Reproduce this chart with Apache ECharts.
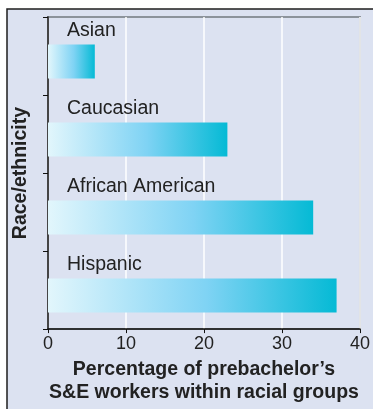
<!DOCTYPE html>
<html>
<head>
<meta charset="utf-8">
<script src="https://cdn.jsdelivr.net/npm/echarts@6/dist/echarts.min.js"></script>
<style>
html, body { margin: 0; padding: 0; background: #fff; }
#main { width: 373px; height: 409px; }
</style>
</head>
<body>
<div id="main"></div>
<script>
var groups = ['Asian', 'Caucasian', 'African American', 'Hispanic'];
var shares = [6, 23, 34, 37];
var pad = [0, 0, 0, 0];
var xTicks = [0, 10, 20, 30, 40];

var myChart = echarts.init(document.getElementById('main'));

var barFill = new echarts.graphic.LinearGradient(0, 0, 1, 0, [
    { offset: 0, color: '#e2f6fc' },
    { offset: 0.55, color: '#7fd3f4' },
    { offset: 1, color: '#05bad5' }
]);

var option = {
    animation: false,
    graphic: [{
        type: 'rect',
        z: -10,
        shape: { x: 7, y: 9, width: 380, height: 420 },
        style: { fill: '#dce2f1', stroke: '#1e1e1e', lineWidth: 1.5 }
    }],
    grid: {
        left: 48, right: 10, top: 17, bottom: 77,
        show: true,
        borderColor: '#8c939b',
        borderWidth: 2,
        backgroundColor: 'transparent'
    },
    xAxis: {
        type: 'value',
        min: xTicks[0],
        max: xTicks[xTicks.length - 1],
        interval: 10,
        axisLine: { show: true, lineStyle: { color: '#111', width: 1.5 } },
        axisTick: { show: true, length: 4, lineStyle: { color: '#111' } },
        axisLabel: { color: '#222', fontSize: 18, margin: 6, fontFamily: 'Liberation Sans' },
        splitLine: { show: true, lineStyle: { color: '#ffffff', width: 1.5 } },
        name: 'Percentage of prebachelor\u2019s\nS&E workers within racial groups',
        nameLocation: 'middle',
        nameGap: 27,
        nameTextStyle: {
            color: '#222', fontSize: 19.5, fontWeight: 'bold',
            lineHeight: 23, fontFamily: 'Liberation Sans'
        }
    },
    yAxis: {
        type: 'category',
        data: groups,
        inverse: true,
        axisLine: { show: true, lineStyle: { color: '#111', width: 1.5 } },
        axisTick: { show: true, length: 5, lineStyle: { color: '#111' } },
        axisLabel: { show: false },
        splitLine: { show: false },
        name: 'Race/ethnicity',
        nameLocation: 'middle',
        nameGap: 17,
        nameTextStyle: {
            color: '#222', fontSize: 19.5, fontWeight: 'bold',
            fontFamily: 'Liberation Sans'
        }
    },
    series: [{
        name: 'pad',
        type: 'bar',
        data: pad,
        barWidth: 11,
        barGap: '0%',
        itemStyle: { color: 'transparent' },
        silent: true
    }, {
        name: 'share',
        type: 'bar',
        data: shares,
        barWidth: 34,
        itemStyle: { color: barFill },
        label: {
            show: true,
            position: [19, -14],
            align: 'left',
            verticalAlign: 'middle',
            formatter: '{b}',
            color: '#222',
            fontSize: 19.5,
            fontFamily: 'Liberation Sans'
        }
    }]
};
myChart.setOption(option);
</script>
</body>
</html>
